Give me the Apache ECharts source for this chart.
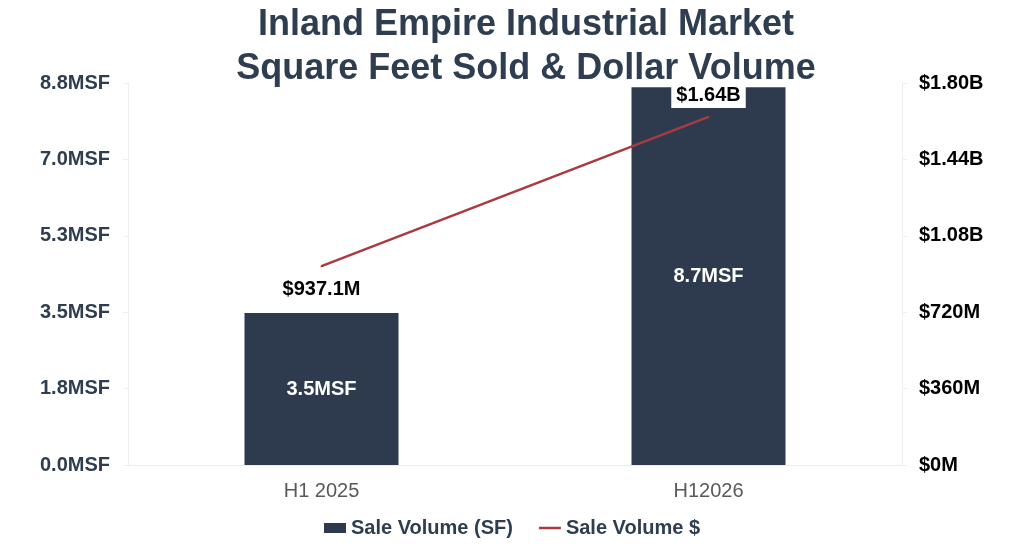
<!DOCTYPE html>
<html>
<head>
<meta charset="utf-8">
<script src="https://cdn.jsdelivr.net/npm/echarts@6/dist/echarts.min.js"></script>
<style>
  html, body { margin: 0; padding: 0; background: #fff; }
  #chart { width: 1024px; height: 550px; }
</style>
</head>
<body>
<div id="chart"></div>
<script>
// data
const categories = ['H1 2025', 'H12026'];
const sfSold = [3.5, 8.7];            // million square feet
const dollarVolume = [937.1, 1640];   // $ millions
const sfTicks = { max: 8.8, interval: 1.76 };
const usdTicks = { max: 1800, interval: 360 };

const slate = '#2e3b4e';
const red = '#a83a40';
const font = '"Liberation Sans", Arial, sans-serif';

const fmtUsd = v => v >= 1000 ? '$' + (v / 1000).toFixed(2) + 'B' : '$' + Math.round(v * 10) / 10 + 'M';

// label placement per point (first under the line, second on a white box above)
const lineLabels = [
    { position: 'bottom', distance: 12 },
    { position: 'top', distance: 8, backgroundColor: '#fff', padding: [2, 5] }
];

const chart = echarts.init(document.getElementById('chart'));

chart.setOption({
    animation: false,
    graphic: [{
        type: 'text',
        x: 526,
        y: 3,
        z: 100,
        style: {
            text: 'Inland Empire Industrial Market\nSquare Feet Sold & Dollar Volume',
            align: 'center',
            verticalAlign: 'top',
            fontFamily: font,
            fontSize: 36,
            fontWeight: 'bold',
            lineHeight: 44,
            fill: '#2e3d50'
        }
    }],
    legend: {
        bottom: 7,
        left: 'center',
        itemGap: 26,
        itemWidth: 22,
        itemHeight: 10,
        data: [
            { name: 'Sale Volume (SF)', icon: 'rect' },
            { name: 'Sale Volume $', icon: 'path://M0,0h22v2.5h-22z' }
        ],
        textStyle: { fontFamily: font, fontSize: 20, fontWeight: 'bold', color: '#2e3d50' }
    },
    grid: { left: 128, right: 122, top: 83, bottom: 85 },
    xAxis: {
        type: 'category',
        data: categories,
        axisLine: { lineStyle: { color: '#ececec' } },
        axisTick: { show: false },
        axisLabel: { fontFamily: font, fontSize: 20, color: '#595959', margin: 16 }
    },
    yAxis: [
        {
            type: 'value',
            min: 0,
            max: sfTicks.max,
            interval: sfTicks.interval,
            splitLine: { show: false },
            axisLine: { show: true, lineStyle: { color: '#eeeeee' } },
            axisTick: { show: true, length: 5, lineStyle: { color: '#eeeeee' } },
            axisLabel: {
                fontFamily: font, fontSize: 20, fontWeight: 'bold', color: '#2e3d50', margin: 18,
                formatter: v => v.toFixed(1) + 'MSF'
            }
        },
        {
            type: 'value',
            min: 0,
            max: usdTicks.max,
            interval: usdTicks.interval,
            splitLine: { show: false },
            axisLine: { show: true, lineStyle: { color: '#eeeeee' } },
            axisTick: { show: true, length: 5, lineStyle: { color: '#eeeeee' } },
            axisLabel: {
                fontFamily: font, fontSize: 20, fontWeight: 'bold', color: '#000', margin: 17,
                formatter: fmtUsd
            }
        }
    ],
    series: [
        {
            name: 'Sale Volume (SF)',
            type: 'bar',
            data: sfSold,
            barWidth: 154,
            itemStyle: { color: slate },
            label: {
                show: true,
                position: 'inside',
                fontFamily: font, fontSize: 20, fontWeight: 'bold', color: '#fff',
                formatter: p => p.value.toFixed(1) + 'MSF'
            }
        },
        {
            name: 'Sale Volume $',
            type: 'line',
            yAxisIndex: 1,
            data: dollarVolume.map((v, i) => ({ value: v, label: lineLabels[i] })),
            symbol: 'circle',
            symbolSize: 2,
            itemStyle: { color: red },
            lineStyle: { color: red, width: 2.5 },
            label: {
                show: true,
                fontFamily: font, fontSize: 20, fontWeight: 'bold', color: '#000',
                formatter: p => fmtUsd(p.value)
            }
        }
    ]
});
</script>
</body>
</html>
